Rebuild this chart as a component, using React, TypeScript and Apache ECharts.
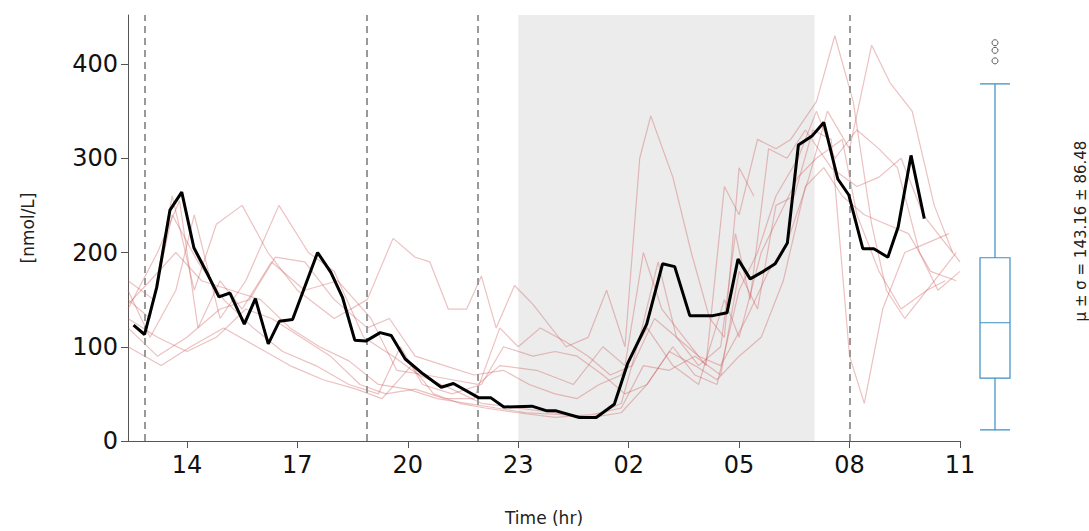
import { useEffect, useRef } from "react";
import * as echarts from "echarts";

// hours since midnight of day 1 (24+ = next day)
const meanTimes = [12.55, 12.85, 13.18, 13.54, 13.86, 14.19, 14.55, 14.87, 15.17, 15.56, 15.86, 16.21, 16.51, 16.87, 17.55, 17.91, 18.23, 18.56, 18.86, 19.25, 19.55, 19.93, 20.42, 20.91, 21.24, 21.92, 22.25, 22.61, 23.37, 23.78, 24.03, 24.66, 25.12, 25.61, 25.97, 26.49, 26.92, 27.25, 27.66, 28.29, 28.67, 28.97, 29.3, 29.66, 29.98, 30.31, 30.61, 30.99, 31.3, 31.68, 31.98, 32.36, 32.66, 33.04, 33.32, 33.67, 34.03];
const meanValues = [123, 113, 163, 245, 264, 205, 178, 153, 157, 124, 151, 103, 127, 129, 200, 179, 152, 107, 106, 115, 112, 87, 71, 57, 61, 46, 46, 36, 37, 32, 32, 25, 25, 39, 82, 124, 188, 185, 133, 133, 136, 193, 172, 180, 188, 210, 314, 324, 338, 278, 261, 204, 204, 195, 227, 303, 236];

const subjects: [number, number][][] = [
  [[12.4, 150], [13.0, 130], [13.6, 260], [14.2, 160], [14.8, 230], [15.5, 250], [16.2, 200], [17.0, 160], [18.0, 130], [18.9, 150], [19.6, 215], [20.2, 195], [20.6, 190], [21.1, 140], [21.6, 140], [22.0, 175], [22.4, 120], [22.9, 165], [23.4, 145], [24.3, 100], [24.9, 110], [25.4, 160], [25.9, 100], [26.3, 300], [26.6, 345], [27.2, 280], [27.7, 200], [28.2, 130], [28.6, 110], [29.0, 290], [29.4, 260]],
  [[12.4, 140], [13.2, 200], [13.8, 255], [14.3, 120], [14.9, 170], [15.5, 140], [16.3, 190], [17.2, 160], [18.1, 170], [19.0, 130], [19.7, 75], [20.5, 70], [21.2, 65], [21.9, 60], [22.5, 80], [23.5, 75], [24.5, 60], [25.3, 100], [25.9, 80], [26.4, 200], [26.9, 140], [27.5, 110], [28.1, 80], [28.6, 270], [29.0, 240], [29.5, 320], [30.0, 310], [30.4, 320], [31.1, 360], [31.6, 430], [32.1, 360], [32.6, 230], [33.0, 160], [33.5, 130], [34.3, 170], [34.9, 200]],
  [[12.4, 160], [13.0, 110], [13.7, 160], [14.2, 240], [14.9, 130], [15.6, 170], [16.5, 250], [17.3, 200], [18.0, 180], [18.8, 110], [19.6, 90], [20.3, 70], [21.2, 55], [22.0, 40], [23.0, 35], [24.0, 30], [25.0, 25], [25.8, 40], [26.3, 110], [26.8, 190], [27.3, 110], [27.9, 80], [28.5, 100], [28.9, 220], [29.3, 150], [29.8, 310], [30.3, 300], [30.8, 330], [31.5, 290], [32.2, 270], [32.8, 280], [33.4, 300], [34.0, 240], [34.6, 210], [35.0, 190]],
  [[12.4, 120], [13.2, 90], [14.0, 110], [14.9, 140], [15.7, 150], [16.4, 195], [17.2, 190], [18.0, 150], [18.9, 120], [19.5, 130], [20.2, 90], [21.0, 80], [21.8, 70], [22.6, 75], [23.3, 60], [24.0, 50], [24.6, 45], [25.2, 60], [25.8, 70], [26.5, 120], [27.2, 80], [27.9, 60], [28.6, 150], [29.0, 110], [29.6, 200], [30.1, 240], [30.6, 280], [31.1, 300], [31.8, 320], [32.2, 240], [32.8, 180], [33.4, 140], [34.1, 160], [34.6, 170]],
  [[12.4, 100], [13.3, 80], [14.1, 100], [15.0, 120], [15.9, 100], [16.8, 80], [17.7, 65], [18.6, 55], [19.3, 45], [20.1, 80], [20.7, 50], [21.4, 40], [22.1, 35], [23.0, 30], [24.0, 25], [25.0, 28], [25.8, 35], [26.4, 80], [27.1, 75], [27.8, 90], [28.5, 70], [29.0, 180], [29.5, 140], [30.0, 250], [30.5, 260], [31.0, 330], [31.5, 320], [32.0, 90], [32.4, 40], [32.9, 140], [33.5, 200], [34.1, 210], [34.7, 220]],
  [[12.4, 170], [13.1, 150], [13.6, 240], [14.3, 190], [15.0, 150], [15.8, 120], [16.6, 95], [17.5, 80], [18.4, 60], [19.2, 50], [19.8, 100], [20.4, 60], [21.2, 50], [22.0, 60], [22.6, 100], [23.4, 90], [24.0, 95], [24.6, 90], [25.3, 70], [25.9, 50], [26.5, 60], [27.2, 100], [27.8, 70], [28.4, 60], [29.0, 160], [29.5, 200], [30.0, 260], [30.6, 300], [31.1, 350], [31.6, 300], [32.2, 330], [32.8, 310], [33.3, 290], [33.9, 200], [34.4, 160], [35.0, 180]],
  [[12.4, 130], [13.2, 110], [14.0, 95], [14.8, 110], [15.6, 140], [16.3, 130], [17.1, 110], [17.9, 90], [18.7, 60], [19.4, 50], [20.2, 55], [21.0, 45], [21.8, 45], [22.5, 120], [23.0, 100], [23.6, 120], [24.3, 105], [24.9, 90], [25.5, 70], [26.1, 80], [26.7, 130], [27.3, 110], [27.9, 90], [28.5, 80], [29.2, 130], [29.8, 180], [30.3, 210], [30.9, 280], [31.4, 350], [32.0, 310], [32.6, 420], [33.1, 380], [33.7, 350], [34.3, 250], [34.8, 200]],
  [[12.4, 145], [13.0, 170], [13.7, 200], [14.4, 170], [15.2, 160], [16.0, 150], [16.8, 120], [17.6, 100], [18.4, 85], [19.2, 60], [20.0, 55], [20.8, 45], [21.6, 40], [22.4, 35], [23.2, 30], [24.2, 28], [25.0, 25], [25.8, 30], [26.5, 60], [27.1, 95], [27.8, 80], [28.4, 65], [29.0, 90], [29.6, 110], [30.2, 170], [30.8, 270], [31.3, 290], [31.8, 260], [32.4, 240], [33.0, 230], [33.6, 220], [34.2, 180], [34.9, 170]],
];

const nightStart = 23;
const nightEnd = 31.05;
const eventLines = [12.85, 18.88, 21.9, 32];
const xTicks = [14, 17, 20, 23, 26, 29, 32, 35];
const boxStats = [18, 72, 130, 198, 380];
const outliers = [404, 415, 423];

export default function App() {
  const ref = useRef<HTMLDivElement | null>(null);

  useEffect(() => {
    if (!ref.current) return;
    const chart = echarts.init(ref.current, null, { renderer: "svg" });
    const axisColor = "#555";
    const font = "DejaVu Sans";
    chart.setOption({
      animation: false,
      textStyle: { fontFamily: font },
      grid: [
        { left: 128, right: 129, top: 15, bottom: 84 },
        { left: 975, width: 40, top: 15, bottom: 84 },
      ],
      xAxis: [
        {
          type: "value",
          min: 12.4,
          max: 35,
          name: "Time (hr)",
          nameLocation: "middle",
          nameGap: 68,
          nameTextStyle: { fontSize: 17, color: "#222" },
          axisLine: { lineStyle: { color: axisColor } },
          splitLine: { show: false },
          axisTick: { customValues: xTicks, length: 7, lineStyle: { color: axisColor } },
          axisLabel: {
            customValues: xTicks,
            fontSize: 24,
            color: "#111",
            margin: 12,
            formatter: (v: number) => String(Math.round(v) % 24).padStart(2, "0"),
          },
        },
        { type: "category", gridIndex: 1, data: ["b"], show: false },
      ],
      yAxis: [
        {
          type: "value",
          min: 0,
          max: 452,
          interval: 100,
          name: "[nmol/L]",
          nameLocation: "middle",
          nameGap: 92,
          nameTextStyle: { fontSize: 17, color: "#222" },
          axisLine: { show: true, lineStyle: { color: axisColor } },
          axisTick: { show: true, length: 7, lineStyle: { color: axisColor } },
          splitLine: { show: false },
          axisLabel: { fontSize: 24, color: "#111", margin: 10, showMaxLabel: false },
        },
        {
          type: "value",
          gridIndex: 1,
          min: 0,
          max: 452,
          show: true,
          axisLine: { show: false },
          axisTick: { show: false },
          axisLabel: { show: false },
          splitLine: { show: false },
          position: "right",
          name: "μ ± σ = 143.16 ± 86.48",
          nameLocation: "middle",
          nameGap: 58,
          nameRotate: 90,
          nameTextStyle: { fontSize: 15, color: "#222" },
        },
      ],
      series: [
        ...subjects.map((s) => ({
          type: "line",
          data: s,
          showSymbol: false,
          silent: true,
          lineStyle: { color: "rgba(205,92,92,0.38)", width: 1.2 },
        })),
        {
          type: "line",
          data: meanTimes.map((t, i) => [t, meanValues[i]]),
          showSymbol: false,
          lineStyle: { color: "#000", width: 3 },
          z: 5,
          markArea: {
            silent: true,
            itemStyle: { color: "rgba(200,200,200,0.35)" },
            data: [[{ xAxis: nightStart, yAxis: 0 }, { xAxis: nightEnd, yAxis: 452 }]],
          },
          markLine: {
            silent: true,
            symbol: "none",
            label: { show: false },
            lineStyle: { color: "#999", type: [7, 5], width: 2 },
            data: eventLines.map((x) => ({ xAxis: x })),
          },
        },
        {
          type: "boxplot",
          xAxisIndex: 1,
          yAxisIndex: 1,
          data: [boxStats],
          boxWidth: [30, 30],
          itemStyle: { color: "#fff", borderColor: "#3b8fc4", borderWidth: 1.2 },
        },
        {
          type: "scatter",
          xAxisIndex: 1,
          yAxisIndex: 1,
          data: outliers.map((v) => ["b", v]),
          symbol: "circle",
          symbolSize: 6,
          itemStyle: { color: "#fff", borderColor: "#333", borderWidth: 1 },
        },
      ],
    });
    return () => chart.dispose();
  }, []);

  return <div ref={ref} style={{ position: "absolute", left: 0, top: 0, width: 1089, height: 531 }} />;
}
